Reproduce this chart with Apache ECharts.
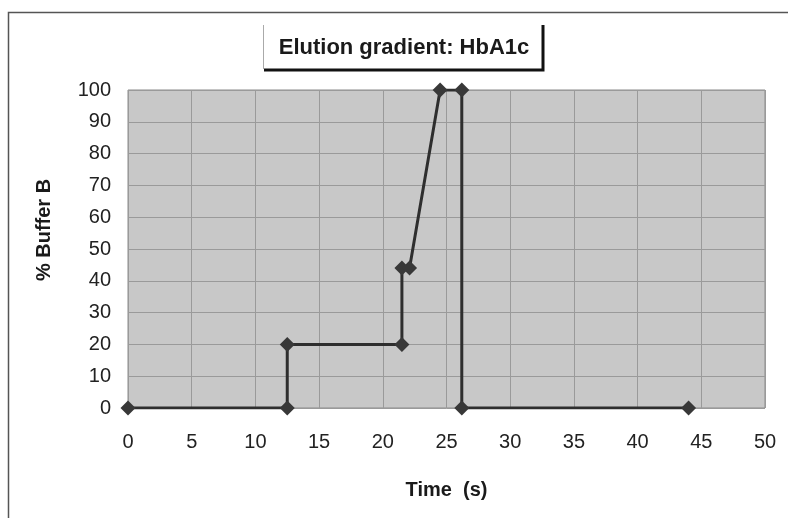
<!DOCTYPE html>
<html>
<head>
<meta charset="utf-8">
<script src="https://cdn.jsdelivr.net/npm/echarts@6/dist/echarts.min.js"></script>
<style>
  html, body { margin: 0; padding: 0; background: #fff; }
  #chart { width: 788px; height: 518px; }
</style>
</head>
<body>
<div id="chart"></div>
<script>
// Elution gradient program: time (s) vs. % buffer B
const timePoints = [0, 12.5, 12.5, 21.5, 21.5, 22.1, 24.5, 26.2, 26.2, 44];
const bufferB    = [0, 0, 20, 20, 44, 44, 100, 100, 0, 0];
const titleText = 'Elution gradient: HbA1c';
const xName = 'Time  (s)';
const yName = '% Buffer B';

const FONT = '"Liberation Sans", Arial, sans-serif';
const chart = echarts.init(document.getElementById('chart'));

const seriesData = timePoints.map((t, i) => [t, bufferB[i]]);

chart.setOption({
  animation: false,
  backgroundColor: '#ffffff',
  grid: {
    left: 128, right: 23, top: 90, bottom: 110,
    show: true, backgroundColor: '#c8c8c8', borderColor: '#8a8a8a', borderWidth: 1
  },
  graphic: [
    // outer chart frame (top and left edges)
    { type: 'polyline', silent: true,
      shape: { points: [[8.5, 518], [8.5, 12.5], [788, 12.5]] },
      style: { stroke: '#555', lineWidth: 1.5, fill: null } },
    // title box with heavy right/bottom edge
    { type: 'rect', silent: true, shape: { x: 263, y: 25, width: 280, height: 44 },
      style: { fill: '#fff', stroke: null } },
    { type: 'line', silent: true, shape: { x1: 263.5, y1: 25, x2: 263.5, y2: 69 },
      style: { stroke: '#aaa', lineWidth: 1 } },
    { type: 'polyline', silent: true,
      shape: { points: [[264, 70], [543, 70], [543, 25]] },
      style: { stroke: '#111', lineWidth: 3, fill: null } },
    { type: 'text', silent: true, x: 404, y: 48,
      style: { text: titleText, font: 'bold 22px ' + FONT, fill: '#1a1a1a',
               align: 'center', verticalAlign: 'middle' } },
    // vertical axis title
    { type: 'text', silent: true, x: 44, y: 230, rotation: Math.PI / 2,
      style: { text: yName, font: 'bold 20px ' + FONT, fill: '#1a1a1a',
               align: 'center', verticalAlign: 'middle' } }
  ],
  xAxis: {
    type: 'value', min: 0, max: 50, interval: 5,
    name: xName, nameLocation: 'middle', nameGap: 72,
    nameTextStyle: { fontFamily: FONT, fontWeight: 'bold', fontSize: 20, color: '#1a1a1a' },
    axisLine: { show: false },
    axisTick: { show: false },
    axisLabel: { margin: 24, fontFamily: FONT, fontSize: 20, color: '#222' },
    splitLine: { show: true, lineStyle: { color: '#9a9a9a', width: 1 } }
  },
  yAxis: {
    type: 'value', min: 0, max: 100, interval: 10,
    axisLine: { show: false },
    axisTick: { show: false },
    axisLabel: { margin: 17, fontFamily: FONT, fontSize: 20, color: '#222' },
    splitLine: { show: true, lineStyle: { color: '#9a9a9a', width: 1 } }
  },
  series: [{
    type: 'line',
    data: seriesData,
    symbol: 'diamond',
    symbolSize: 15,
    itemStyle: { color: '#383838' },
    lineStyle: { color: '#2e2e2e', width: 3 },
    z: 5
  }]
});
</script>
</body>
</html>
